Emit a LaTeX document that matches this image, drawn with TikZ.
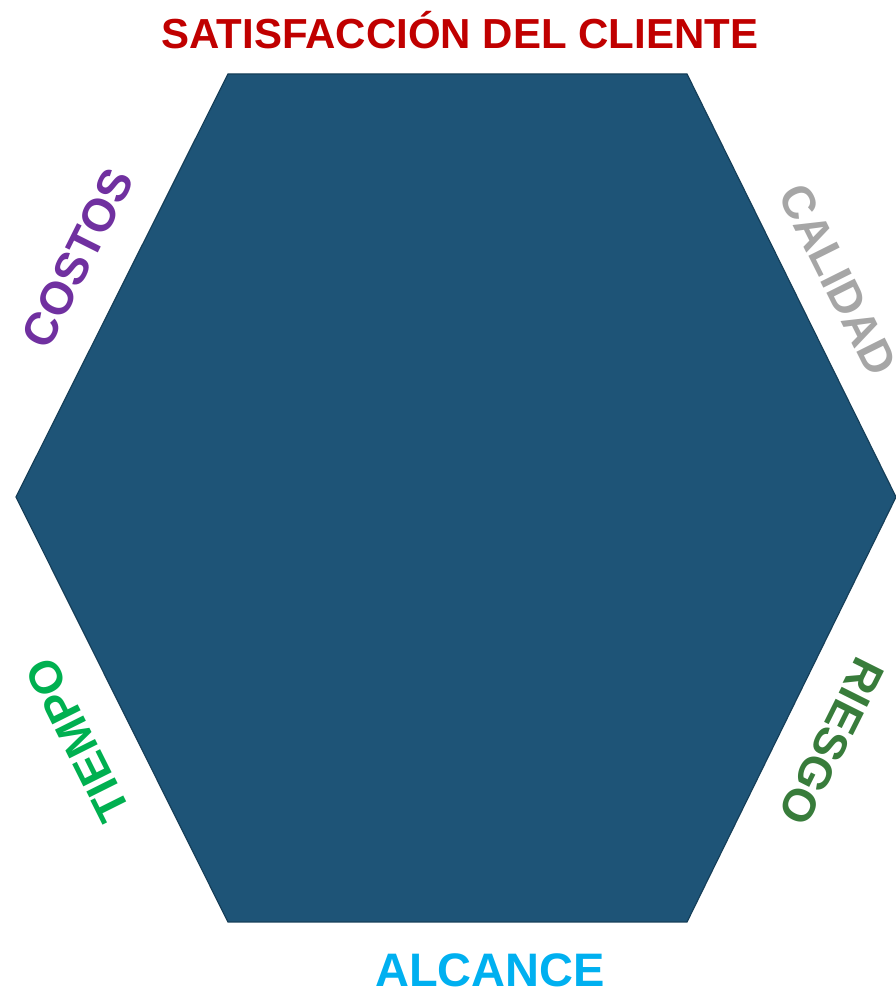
\documentclass[tikz,border=0pt]{standalone}
\usepackage{fontspec}
\setmainfont{Liberation Sans}
\usetikzlibrary{positioning}
\definecolor{hxblue}{HTML}{1E5477}
\definecolor{hxred}{HTML}{C00000}
\definecolor{hxpurple}{HTML}{7030A0}
\definecolor{hxgray}{HTML}{A6A6A6}
\definecolor{hxgreen}{HTML}{00B050}
\definecolor{hxdkgreen}{HTML}{387C3B}
\definecolor{hxcyan}{HTML}{00B0F0}

\begin{document}
\begin{tikzpicture}[x=1pt, y=1pt, line width=1.2pt,
    lbl/.style={font=\fontsize{46}{46}\selectfont\bfseries, inner sep=0pt}]
    \useasboundingbox (0,0) rectangle (896,993);
    \coordinate (tl) at (228,919);
    \coordinate (tr) at (687,919);
    \coordinate (r) at (896,496);
    \coordinate (br) at (687,71);
    \coordinate (bl) at (228,71);
    \coordinate (l) at (16,496);
    \filldraw[draw=hxblue!75!black, fill=hxblue] (tl) -- (tr) -- (r) -- (br) -- (bl) -- (l) -- cycle;
    \node[lbl, text=hxred, font=\fontsize{42}{42}\selectfont\bfseries] (sat) at (460,963) {SATISFACCIÓN DEL CLIENTE};
    \node[lbl, text=hxcyan, font=\fontsize{47}{47}\selectfont\bfseries] (alc) at (490,23) {ALCANCE};
    \node[lbl, text=hxpurple, rotate=63.43] (cos) at (78,735) {COSTOS};
    \node[lbl, text=hxgray, rotate=-63.43] (cal) at (838,713) {CALIDAD};
    \node[lbl, text=hxgreen, rotate=116.57] (tie) at (78,253) {TIEMPO};
    \node[lbl, text=hxdkgreen, rotate=-116.57] (rie) at (832,251) {RIESGO};
  \end{tikzpicture}
\end{document}
